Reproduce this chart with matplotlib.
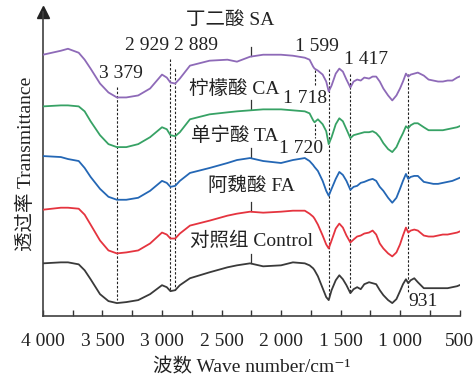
import numpy as np
import matplotlib
matplotlib.use('Agg')
import matplotlib.pyplot as plt

plt.rcParams['font.family'] = ['Liberation Serif', 'Noto Sans CJK SC', 'DejaVu Serif']

# wavenumber grid (cm-1)
wn = [4000, 3850, 3790, 3700, 3650, 3600, 3521, 3450, 3379, 3300, 3200, 3100, 3000,
      2960, 2929, 2889, 2850, 2765, 2600, 2450, 2370, 2260, 2150, 2000, 1900, 1800,
      1760, 1730, 1718, 1690, 1650, 1620, 1599, 1575, 1540, 1510, 1480, 1450, 1417,
      1390, 1360, 1330, 1300, 1260, 1230, 1200, 1170, 1140, 1100, 1065, 1030, 1000,
      975, 950, 931, 910, 880, 850, 800, 760, 720, 680, 640, 600, 560, 520, 500]

# transmittance (a.u., offset stacked)
sa = [263, 267, 269, 265, 258, 249, 234, 225, 220, 220, 222, 229, 243,
      240, 235, 234, 239, 252, 257, 258, 256, 261, 263, 263, 262, 260,
      258, 251, 249, 247, 243, 236, 226, 232, 244, 249, 246, 238, 230,
      236, 238, 237, 240, 239, 241, 241, 236, 229, 222, 217, 222, 229,
      236, 244, 241, 243, 244, 245, 242, 238, 237, 236, 236, 237, 237, 240, 241]
ca = [211, 212, 212, 211, 206, 196, 182, 173, 170, 170, 173, 180, 190,
      188, 182, 181, 185, 198, 203, 205, 206, 207, 208, 208, 207, 206,
      204, 197, 195, 198, 193, 186, 173, 180, 193, 199, 196, 188, 179,
      182, 183, 184, 185, 185, 186, 184, 180, 174, 168, 165, 170, 178,
      184, 191, 189, 192, 194, 194, 190, 187, 187, 187, 187, 188, 189, 190, 191]
ta = [161, 160, 158, 156, 149, 140, 128, 120, 117, 117, 119, 126, 136,
      134, 130, 131, 136, 144, 149, 154, 157, 159, 156, 154, 157, 159,
      156, 152, 150, 146, 136, 126, 121, 128, 138, 145, 142, 136, 127,
      130, 131, 134, 135, 137, 138, 136, 130, 126, 119, 114, 119, 128,
      136, 143, 138, 140, 141, 141, 135, 134, 133, 133, 134, 135, 136, 138, 139]
fa = [107, 109, 109, 108, 102, 92, 76, 66, 63, 64, 66, 73, 84,
      82, 78, 78, 83, 91, 96, 101, 103, 105, 104, 105, 106, 106,
      103, 100, 98, 92, 81, 72, 68, 76, 88, 93, 89, 81, 74,
      77, 80, 81, 83, 84, 86, 82, 73, 68, 63, 60, 64, 72,
      81, 89, 84, 86, 87, 86, 81, 80, 80, 81, 82, 82, 83, 84, 85]
control = [53, 54, 54, 52, 46, 37, 22, 15, 13, 14, 16, 22, 31,
           29, 25, 26, 31, 38, 44, 49, 51, 53, 50, 51, 54, 53,
           51, 48, 46, 40, 28, 19, 16, 26, 36, 41, 37, 31, 23,
           27, 29, 27, 32, 34, 33, 32, 26, 21, 16, 13, 17, 25,
           32, 37, 33, 36, 38, 34, 28, 28, 28, 28, 28, 28, 29, 30, 31]

series = [sa, ca, ta, fa, control]
colors = ['#8e6ab8', '#37a265', '#2467b5', '#e5343f', '#3a3a3a']
names = ['丁二酸 SA', '柠檬酸 CA', '单宁酸 TA', '阿魏酸 FA', '对照组 Control']
name_pos = [(2429, 298), (2395, 228), (2387, 181), (2252, 131), (2252, 76)]

# marked peaks: (wavenumber, y top, y bottom)
peaks = [(3379, 231, 16), (2929, 259, 26), (2889, 249, 26),
         (1599, 249, 18), (1417, 244, 23), (931, 244, 23)]
peak_text = [('3 379', 3345, 244), ('2 929', 3126, 272), ('2 889', 2714, 272),
             ('1 599', 1697, 271), ('1 417', 1286, 258), ('1 718', 1798, 219),
             ('1 720', 1832, 169), ('931', 807, 15)]

fig = plt.figure(figsize=(4.76, 3.8), dpi=100)
ax = fig.add_axes([43 / 476, 64 / 380, 416.5 / 476, 304 / 380])

for y, c in zip(series, colors):
    ax.plot(wn, y, color=c, lw=1.3, zorder=3)

dash = dict(color='#222222', lw=0.8, ls=(0, (2.2, 1.6)), zorder=2)
for x, y0, y1 in peaks:
    ax.plot([x, x], [y0, y1], **dash)
# shoulder at ~1718
ax.plot([1718, 1718], [248, 233], **dash)
ax.plot([1718, 1718], [193, 179], **dash)

for t, x, y in peak_text:
    ax.text(x, y, t, fontsize=14, ha='center', va='center', color='#222222')

wn_r = wn[::-1]
for (x, y), name, s in zip(name_pos, names, series):
    yc = np.interp(2252, wn_r, s[::-1])
    ax.plot([2252, 2252], [yc + 1, yc + 10], color='#333333', lw=0.9)
    ax.text(x, y, name, fontsize=14, ha='center', va='center', color='#222222')

ax.set_xlim(4000, 500)
ax.set_ylim(0, 306)
ax.set_xticks([4000, 3500, 3000, 2500, 2000, 1500, 1000, 500])
ax.set_xticklabels(['4 000', '3 500', '3 000', '2 500', '2 000', '1 500', '1 000', '500'])
ax.set_xticks(np.arange(3750, 500, -500), minor=True)
ax.tick_params(axis='x', which='both', direction='in', length=4, width=1,
               labelsize=14, pad=12, color='#333333', labelcolor='#222222')
ax.set_yticks([])

for s in ['top', 'right']:
    ax.spines[s].set_visible(False)
for s in ['left', 'bottom']:
    ax.spines[s].set_color('#404040')
    ax.spines[s].set_linewidth(1.2)

ax.plot([0], [1.0], marker='^', color='#222222', markersize=8,
        transform=ax.transAxes, clip_on=False)

ax.set_xlabel('波数 Wave number/cm\u207b\u00b9', fontsize=14, color='#222222', labelpad=6)
ax.set_ylabel('透过率 Transmittance', fontsize=14, color='#222222', labelpad=6)

fig.savefig('out.png', dpi=100)
